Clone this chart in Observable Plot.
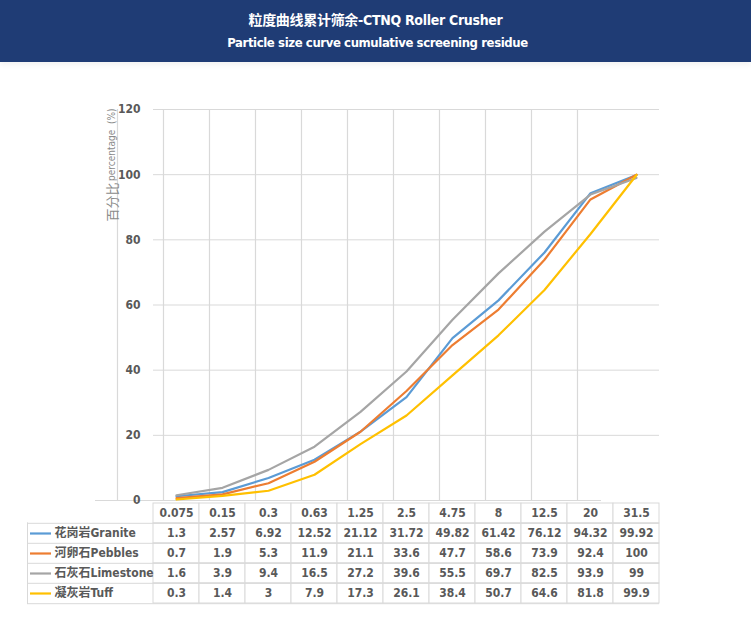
<!DOCTYPE html>
<html>
<head>
<meta charset="utf-8">
<script src="https://cdn.jsdelivr.net/npm/d3@7"></script>
<script src="https://cdn.jsdelivr.net/npm/@observablehq/plot@0.6"></script>
<style>
  html, body { margin: 0; padding: 0; background: #fff; width: 751px; overflow: hidden; }
  #header {
    height: 62px; background: #1f3c75; color: #fff; text-align: center;
    font-family: "DejaVu Sans Condensed", "DejaVu Sans", "Noto Sans CJK SC", sans-serif; font-stretch: condensed;
    font-weight: bold; box-shadow: 0 3px 5px rgba(0,0,0,0.05); position: relative;
  }
  #title { position: absolute; left: 0; right: 0; top: 11px; font-size: 14px; line-height: 18px; letter-spacing: -0.3px; }
  #subtitle { position: absolute; left: 0; right: 0; top: 34px; font-size: 13px; line-height: 18px; padding-left: 4px; letter-spacing: -0.4px; }
  svg { display: block; }
  #table { margin-top: -8px; }
  svg text { font-stretch: condensed; }
</style>
</head>
<body>
<div id="header"><div id="title">粒度曲线累计筛余-CTNQ Roller Crusher</div><div id="subtitle">Particle size curve cumulative screening residue</div></div>
<div id="chart"></div>
<div id="table"></div>
<script>
const categories = ["0.075","0.15","0.3","0.63","1.25","2.5","4.75","8","12.5","20","31.5"];
const granite   = [1.3, 2.57, 6.92, 12.52, 21.12, 31.72, 49.82, 61.42, 76.12, 94.32, 99.92];
const pebbles   = [0.7, 1.9, 5.3, 11.9, 21.1, 33.6, 47.7, 58.6, 73.9, 92.4, 100];
const limestone = [1.6, 3.9, 9.4, 16.5, 27.2, 39.6, 55.5, 69.7, 82.5, 93.9, 99];
const tuff      = [0.3, 1.4, 3, 7.9, 17.3, 26.1, 38.4, 50.7, 64.6, 81.8, 99.9];
const seriesNames = ["花岗岩Granite", "河卵石Pebbles", "石灰石Limestone", "凝灰岩Tuff"];
const seriesValues = [granite, pebbles, limestone, tuff];
const seriesColors = ["#5b9bd5", "#ed7d31", "#a5a5a5", "#ffc000"];
const yTicks = [0, 20, 40, 60, 80, 100, 120];
const yGrid = [20, 40, 60, 80, 100, 120];

const NARROW = '"DejaVu Sans Condensed","DejaVu Sans","Noto Sans CJK SC",sans-serif';
const GRID = "#d9d9d9";
const TXT = "#595959";

const rows = seriesNames.flatMap((s, i) => categories.map((c, j) => ({series: s, cat: c, value: seriesValues[i][j]})));

const chart = Plot.plot({
  width: 751, height: 448,
  marginTop: 47, marginBottom: 10, marginLeft: 153, marginRight: 92,
  style: {fontFamily: NARROW, fontSize: "12px", fontWeight: "bold", color: TXT, background: "transparent", fontStretch: "condensed"},
  x: {type: "point", domain: categories, padding: 0.5, axis: null},
  y: {domain: [0, 120], axis: null},
  color: {domain: seriesNames, range: seriesColors},
  marks: [
    Plot.ruleY(yGrid, {stroke: GRID, strokeWidth: 1}),
    Plot.ruleY([0], {stroke: GRID, strokeWidth: 1.2, dx: -58}),
    Plot.ruleX(categories, {y1: 0, y2: 120, dx: -59, stroke: GRID, strokeWidth: 1.2}),
    Plot.axisY({ticks: yTicks, label: null, tickSize: 0, tickPadding: 13, fill: TXT, fontSize: 12}),
    Plot.line(rows, {x: "cat", y: "value", z: "series", stroke: "series", strokeWidth: 2.2}),
    Plot.text(["percentage  (%)"], {frameAnchor: "top-left", dx: -46, dy: -1, rotate: -90, textAnchor: "end", fontSize: 10, fontWeight: "normal", fill: "#8a8a8a"}),
    Plot.text(["百分比"], {frameAnchor: "top-left", dx: -46, dy: 112, rotate: -90, textAnchor: "start", fontSize: 13, fontWeight: "normal", fill: "#8a8a8a", fontFamily: '"Noto Sans CJK SC", sans-serif'})
  ]
});
document.getElementById("chart").appendChild(chart);

const HDR = "hdr";
const tableRows = [HDR, ...seriesNames];
const cells = [
  ...categories.map(c => ({row: HDR, cat: c, text: c})),
  ...rows.map(d => ({row: d.series, cat: d.cat, text: String(d.value)}))
];
const bw = 102 / tableRows.length;

const table = Plot.plot({
  width: 751, height: 133,
  marginTop: 0, marginBottom: 31, marginLeft: 153, marginRight: 92,
  style: {fontFamily: NARROW, fontSize: "12px", fontWeight: "bold", color: TXT, background: "transparent", fontStretch: "condensed"},
  x: {type: "band", domain: categories, padding: 0, axis: null},
  y: {type: "band", domain: tableRows, padding: 0, axis: null},
  marks: [
    Plot.cell(cells, {x: "cat", y: "row", fill: "white", stroke: GRID, strokeWidth: 1}),
    Plot.ruleY(seriesNames, {dy: -bw / 2, insetLeft: -126, stroke: GRID}),
    Plot.ruleY(seriesNames.slice(-1), {dy: bw / 2, insetLeft: -126, stroke: GRID}),
    Plot.ruleX(categories.slice(0, 1), {dx: -23 - 126, insetTop: bw, stroke: GRID}),
    Plot.ruleY(seriesNames, {stroke: seriesColors, strokeWidth: 2.2, insetLeft: -123, insetRight: 608}),
    Plot.text(seriesNames, {y: d => d, frameAnchor: "left", dx: -99, textAnchor: "start", fill: TXT, fontSize: 12}),
    Plot.text(cells, {x: "cat", y: "row", text: "text", fill: TXT, fontSize: 12})
  ]
});
document.getElementById("table").appendChild(table);
</script>
</body>
</html>
